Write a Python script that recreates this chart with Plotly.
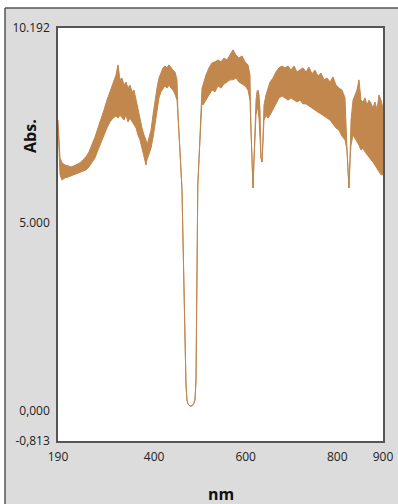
import plotly.graph_objects as go

# wavelength (nm) and the upper / lower edges of the noisy absorbance band
wavelength = [190.0, 192.2, 194.4, 198.7, 205.3, 211.8, 218.4, 225.0, 231.5, 238.1,
              244.6, 251.2, 257.7, 264.3, 270.8, 277.4, 283.9, 290.5, 297.0, 303.6,
              310.2, 316.7, 321.1, 325.4, 329.8, 334.2, 338.6, 342.9, 347.3, 351.7,
              356.0, 360.4, 364.8, 369.1, 373.5, 377.9, 382.2, 384.4, 388.8, 393.2,
              397.5, 401.9, 406.3, 410.6, 415.0, 419.4, 423.7, 428.1, 432.5, 436.9,
              441.2, 445.6, 450.0, 452.2, 454.3, 456.5, 458.7, 460.9, 463.1, 465.3,
              467.4, 469.6, 471.8, 474.0, 478.4, 482.7, 486.0, 489.3, 491.5, 492.6,
              494.1, 495.4, 498.0, 500.2, 502.4, 504.6, 506.8, 513.3, 519.9, 526.4,
              533.0, 539.5, 546.1, 552.6, 559.2, 565.8, 572.3, 578.9, 585.4, 592.0,
              598.5, 605.1, 609.4, 611.6, 613.8, 616.0, 618.2, 620.4, 622.6, 624.7,
              626.9, 629.1, 631.3, 633.5, 635.7, 637.8, 640.0, 644.4, 648.8, 653.1,
              659.7, 666.2, 672.8, 679.3, 685.9, 692.5, 699.0, 705.6, 712.1, 718.7,
              725.2, 731.8, 738.3, 744.9, 751.4, 758.0, 764.6, 771.1, 777.7, 784.2,
              790.8, 797.3, 803.9, 810.4, 817.0, 821.4, 823.5, 825.7, 827.9, 830.1,
              834.5, 838.8, 843.2, 847.6, 851.9, 856.3, 860.7, 865.0, 869.4, 873.8,
              878.1, 882.5, 886.9, 891.2, 895.6, 900.0]

abs_upper = [7.74, 7.21, 6.73, 6.60, 6.54, 6.52, 6.49, 6.52, 6.57, 6.60,
             6.68, 6.76, 6.89, 7.07, 7.29, 7.53, 7.74, 8.01, 8.27, 8.49,
             8.75, 8.94, 9.21, 8.81, 8.86, 8.67, 8.75, 8.59, 8.67, 8.49,
             8.54, 8.27, 8.01, 7.74, 7.53, 7.34, 7.21, 7.07, 7.26, 7.47,
             7.87, 8.27, 8.59, 8.86, 9.02, 9.13, 9.18, 9.13, 9.21, 9.13,
             9.07, 9.02, 8.81, 7.87, 7.34, 6.81, 6.36, 5.88, 4.54, 3.21,
             1.88, 0.68, 0.28, 0.17, 0.12, 0.12, 0.17, 0.28, 0.81, 2.94,
             4.81, 6.01, 6.68, 7.21, 7.87, 8.59, 8.67, 8.94, 9.13, 9.26,
             9.29, 9.34, 9.29, 9.39, 9.34, 9.47, 9.61, 9.47, 9.39, 9.45,
             9.29, 9.21, 8.94, 7.47, 6.41, 5.93, 6.68, 7.87, 8.27, 8.49,
             8.54, 8.41, 8.01, 6.73, 6.62, 7.21, 8.14, 8.41, 8.59, 8.75,
             8.86, 9.02, 9.13, 9.18, 9.13, 9.18, 9.07, 9.18, 9.02, 9.07,
             9.13, 9.02, 9.15, 8.97, 9.07, 8.91, 8.99, 8.81, 8.86, 8.75,
             8.89, 8.67, 8.59, 8.54, 8.33, 6.94, 6.41, 5.93, 6.68, 7.74,
             8.27, 8.41, 8.54, 8.81, 8.27, 8.22, 8.33, 8.14, 8.27, 8.19,
             8.06, 8.22, 8.01, 8.41, 8.27, 8.06]

abs_lower = [7.61, 6.68, 6.28, 6.14, 6.20, 6.22, 6.25, 6.28, 6.30, 6.33,
             6.36, 6.41, 6.49, 6.60, 6.73, 6.94, 7.15, 7.37, 7.53, 7.69,
             7.79, 7.85, 7.79, 7.87, 7.79, 7.74, 7.87, 7.69, 7.79, 7.69,
             7.61, 7.53, 7.34, 7.21, 6.99, 6.73, 6.54, 6.68, 6.81, 6.99,
             7.26, 7.61, 8.01, 8.33, 8.49, 8.59, 8.65, 8.59, 8.67, 8.59,
             8.54, 8.43, 8.27, 7.87, 7.34, 6.81, 6.36, 5.88, 4.54, 3.21,
             1.88, 0.68, 0.28, 0.17, 0.12, 0.12, 0.17, 0.28, 0.81, 2.94,
             4.81, 6.01, 6.68, 7.21, 7.87, 8.27, 8.14, 8.27, 8.41, 8.54,
             8.49, 8.65, 8.59, 8.70, 8.75, 8.81, 8.81, 8.86, 8.75, 8.70,
             8.65, 8.54, 8.27, 7.47, 6.41, 5.93, 6.68, 7.61, 7.87, 8.06,
             8.01, 7.79, 7.21, 6.73, 6.62, 7.21, 7.74, 7.87, 7.79, 7.87,
             8.01, 8.17, 8.33, 8.38, 8.33, 8.27, 8.33, 8.27, 8.22, 8.27,
             8.17, 8.17, 8.11, 8.06, 8.01, 7.95, 7.90, 7.85, 7.79, 7.74,
             7.63, 7.53, 7.47, 7.31, 7.21, 6.94, 6.41, 5.93, 6.68, 7.07,
             7.34, 7.26, 7.15, 7.07, 6.94, 6.99, 6.89, 6.81, 6.73, 6.68,
             6.62, 6.54, 6.46, 6.36, 6.28, 6.28]

x_ticks = [190, 400, 600, 800, 900]
y_ticks = [-0.813, 0.0, 5.0, 10.192]
y_tick_text = ["-0,813", "0,000", "5.000", "10.192"]

color = "#c1874d"

fig = go.Figure()
fig.add_trace(go.Scatter(x=wavelength, y=abs_lower, mode="lines",
                         line=dict(color=color, width=1), hoverinfo="skip"))
fig.add_trace(go.Scatter(x=wavelength, y=abs_upper, mode="lines",
                         line=dict(color=color, width=1), fill="tonexty",
                         fillcolor=color, hoverinfo="skip"))

tick_font = dict(family="Open Sans", size=12, color="#222222")
fig.update_layout(
    width=398, height=504,
    margin=dict(l=58, r=15, t=28, b=63, autoexpand=False),
    paper_bgcolor="#dcdcdc", plot_bgcolor="white",
    showlegend=False,
    xaxis=dict(range=[190, 900], tickvals=x_ticks, ticktext=[str(v) for v in x_ticks],
               showline=True, linecolor="#555555", linewidth=1.5, mirror=True,
               showgrid=False, zeroline=False, ticks="", tickfont=tick_font,
               ticklabelstandoff=4, automargin=False),
    yaxis=dict(range=[-0.813, 10.192], tickvals=y_ticks, ticktext=y_tick_text,
               showline=True, linecolor="#555555", linewidth=1.5, mirror=True,
               showgrid=False, zeroline=False, ticks="", tickfont=tick_font,
               ticklabelstandoff=4, automargin=False),
    shapes=[
        dict(type="rect", xref="paper", yref="paper", x0=-0.3, x1=-0.1631, y0=-0.3, y1=1.2,
             fillcolor="white", line=dict(width=0)),
        dict(type="rect", xref="paper", yref="paper", x0=-0.3, x1=1.3, y0=1.0484, y1=1.2,
             fillcolor="white", line=dict(width=0)),
        dict(type="line", xref="paper", yref="paper", x0=-0.1631, x1=-0.1631, y0=-0.3, y1=1.0484,
             line=dict(color="#555555", width=1.5)),
        dict(type="line", xref="paper", yref="paper", x0=-0.1631, x1=1.3, y0=1.0484, y1=1.0484,
             line=dict(color="#555555", width=1.5)),
    ],
    annotations=[
        dict(text="<b>Abs.</b>", xref="paper", yref="paper", x=-0.0862, y=0.7385,
             textangle=-90, showarrow=False, xanchor="center", yanchor="middle",
             font=dict(family="Open Sans", size=16, color="#111111")),
        dict(text="<b>nm</b>", xref="paper", yref="paper", x=0.5, y=-0.128,
             showarrow=False, xanchor="center", yanchor="middle",
             font=dict(family="Open Sans", size=16, color="#111111")),
    ],
)

fig.write_html("out.html")
